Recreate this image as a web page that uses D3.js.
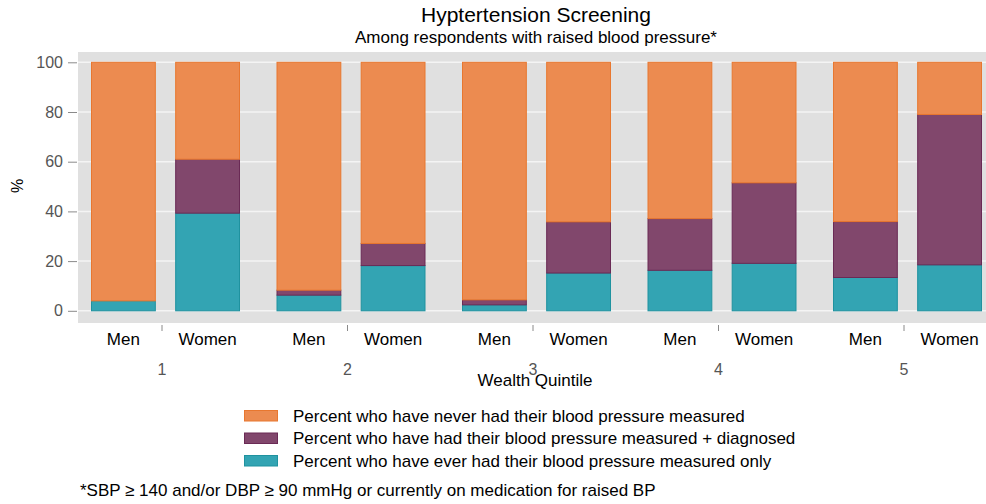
<!DOCTYPE html>
<html>
<head>
<meta charset="utf-8">
<script src="https://cdn.jsdelivr.net/npm/d3@7"></script>
<style>
body { margin: 0; background: #fff; }
text { font-family: "Liberation Sans", Arial, sans-serif; }
</style>
</head>
<body>
<svg id="chart" width="986" height="504"></svg>
<script>
var quintiles = ['1', '2', '3', '4', '5'];
var sexes = ['Men', 'Women'];
// values per bar, order: Q1 Men, Q1 Women, Q2 Men, ...
var measuredOnly = [4, 39.3, 6.3, 18.2, 2.4, 15.2, 16.3, 19.1, 13.4, 18.5];
var diagnosed = [0, 21.7, 2.0, 8.9, 2.0, 20.6, 20.8, 32.4, 22.5, 60.5];
var neverMeasured = [96, 39, 91.7, 72.9, 95.6, 64.2, 62.9, 48.5, 64.1, 21];
var yTicks = [0, 20, 40, 60, 80, 100];
var seriesLabels = [
    'Percent who have never had their blood pressure measured',
    'Percent who have had their blood pressure measured + diagnosed',
    'Percent who have ever had their blood pressure measured only'
];
var seriesKeys = ['measured', 'diagnosed', 'never'];

var colors = {
    never: {fill: '#EC8B50', stroke: '#E8772F'},
    diagnosed: {fill: '#81476C', stroke: '#6A2A55'},
    measured: {fill: '#33A4B3', stroke: '#1F929F'}
};

var rows = [];
quintiles.forEach(function(q, i) {
    sexes.forEach(function(s, j) {
        var k = i * 2 + j;
        rows.push({
            quintile: q,
            sex: s,
            measured: measuredOnly[k],
            diagnosed: diagnosed[k],
            never: neverMeasured[k]
        });
    });
});

var svg = d3.select('#chart');

var panel = {l: 78, r: 990, t: 52, b: 323};

var yScale = d3.scaleLinear()
    .domain([0, 100])
    .range([310.8, 62.3]);

// outer scale: one band per quintile, tick sits on the band centre
var x0 = d3.scaleBand()
    .domain(quintiles)
    .range([69.25, 69.25 + 185.5 * 5]);
// inner scale: offsets from the quintile tick
var x1 = d3.scaleBand()
    .domain(sexes)
    .range([-71, 78])
    .paddingInner(0.23);

function groupCenter(q) {
    return x0(q) + x0.bandwidth() / 2;
}

// title
svg.append('text')
    .attr('x', 536).attr('y', 22)
    .attr('text-anchor', 'middle')
    .style('font-size', '21px')
    .text('Hyptertension Screening');
svg.append('text')
    .attr('x', 536).attr('y', 43)
    .attr('text-anchor', 'middle')
    .style('font-size', '17px')
    .text('Among respondents with raised blood pressure*');

// plot panel
svg.append('rect')
    .attr('x', panel.l).attr('y', panel.t)
    .attr('width', panel.r - panel.l).attr('height', panel.b - panel.t)
    .attr('fill', '#E0E0E0');

svg.append('g').selectAll('line')
    .data(yTicks)
    .join('line')
    .attr('x1', panel.l).attr('x2', panel.r)
    .attr('y1', function(d) { return yScale(d); })
    .attr('y2', function(d) { return yScale(d); })
    .attr('stroke', '#F4F4F4')
    .attr('stroke-width', 1.5);

// y axis
var yAxisG = svg.append('g')
    .attr('transform', 'translate(' + [77, 0] + ')')
    .call(d3.axisLeft(yScale).tickValues(yTicks).tickSize(9).tickPadding(5));
yAxisG.select('.domain').remove();
yAxisG.selectAll('.tick line').attr('stroke', '#8A8A8A');
yAxisG.selectAll('.tick text')
    .attr('fill', '#555')
    .style('font-size', '16px')
    .style('font-family', '"Liberation Sans", Arial, sans-serif');

svg.append('text')
    .attr('transform', 'translate(' + [23, 186] + ') rotate(-90)')
    .attr('text-anchor', 'middle')
    .style('font-size', '16px')
    .text('%');

// stacked bars
var stack = d3.stack().keys(seriesKeys);
var stacked = stack(rows);

var barG = svg.append('g');
barG.selectAll('g')
    .data(stacked)
    .join('g')
    .attr('fill', function(d) { return colors[d.key].fill; })
    .attr('stroke', function(d) { return colors[d.key].stroke; })
    .selectAll('rect')
    .data(function(d) { return d; })
    .join('rect')
    .attr('x', function(d) { return groupCenter(d.data.quintile) + x1(d.data.sex) + 0.5; })
    .attr('width', x1.bandwidth() - 1)
    .attr('y', function(d) { return yScale(d[1]); })
    .attr('height', function(d) { return yScale(d[0]) - yScale(d[1]); })
    .attr('stroke-width', 1);

// x axis: quintile ticks under panel
var xAxisG = svg.append('g');
xAxisG.selectAll('line')
    .data(quintiles)
    .join('line')
    .attr('x1', groupCenter).attr('x2', groupCenter)
    .attr('y1', 325).attr('y2', 331)
    .attr('stroke', '#8A8A8A');

xAxisG.selectAll('.sexLabel')
    .data(rows)
    .join('text')
    .attr('class', 'sexLabel')
    .attr('x', function(d) { return groupCenter(d.quintile) + x1(d.sex) + x1.bandwidth() / 2; })
    .attr('y', 345)
    .attr('text-anchor', 'middle')
    .style('font-size', '17px')
    .text(function(d) { return d.sex; });

xAxisG.selectAll('.qLabel')
    .data(quintiles)
    .join('text')
    .attr('class', 'qLabel')
    .attr('x', groupCenter)
    .attr('y', 375)
    .attr('text-anchor', 'middle')
    .attr('fill', '#555')
    .style('font-size', '16px')
    .text(function(d) { return d; });

svg.append('text')
    .attr('x', 535).attr('y', 386)
    .attr('text-anchor', 'middle')
    .style('font-size', '17px')
    .text('Wealth Quintile');

// legend
var legendKeys = ['never', 'diagnosed', 'measured'];
var legendG = svg.append('g');
var legendItems = legendG.selectAll('g')
    .data(legendKeys)
    .join('g')
    .attr('transform', function(d, i) { return 'translate(' + [244, 410 + i * 22.5] + ')'; });
legendItems.append('rect')
    .attr('x', 0.5).attr('y', 0.5)
    .attr('width', 33).attr('height', 10.5)
    .attr('fill', function(d) { return colors[d].fill; })
    .attr('stroke', function(d) { return colors[d].stroke; });
legendItems.append('text')
    .attr('x', 49).attr('y', 11.5)
    .style('font-size', '17px')
    .text(function(d, i) { return seriesLabels[i]; });

svg.append('text')
    .attr('x', 80).attr('y', 496)
    .style('font-size', '17px')
    .text('*SBP \u2265 140 and/or DBP \u2265 90 mmHg or currently on medication for raised BP');
</script>
</body>
</html>
